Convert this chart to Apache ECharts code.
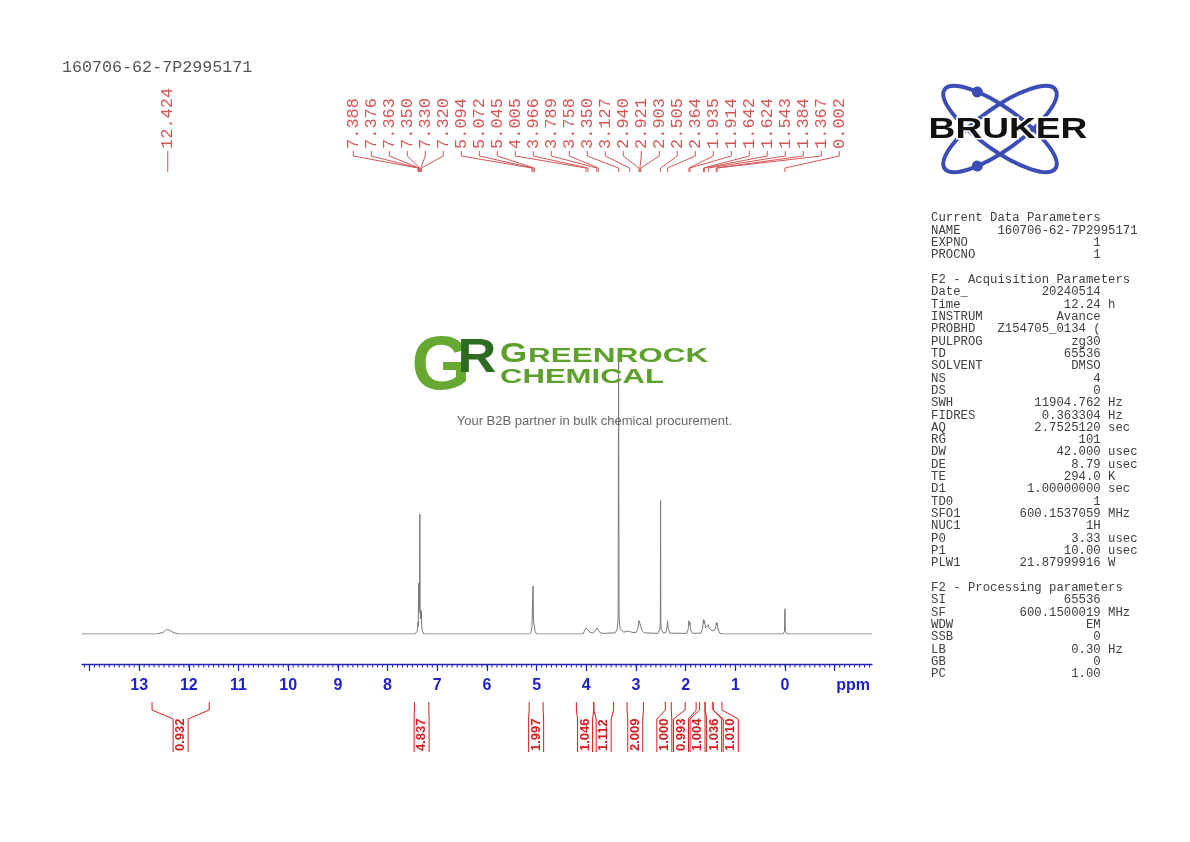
<!DOCTYPE html>
<html>
<head>
<meta charset="utf-8">
<title>160706-62-7P2995171</title>
<script src="https://cdn.jsdelivr.net/npm/echarts@6.0.0/dist/echarts.min.js"></script>
<style>
  html, body { margin: 0; padding: 0; background: #fff; }
  #main { width: 1190px; height: 842px; }
</style>
</head>
<body>
<div id="main"></div>
<script>
var sampleName = '160706-62-7P2995171';

// spectrum trace: [ppm, intensity]
var spectrum = [
  [14.15, 0], [12.65, 0], [12.52, 0.5], [12.45, 1.5], [12.42, 1.7], [12.38, 1.2], [12.3, 0.4], [12.2, 0],
  [7.45, 0], [7.41, 0.8], [7.395, 2], [7.388, 4], [7.382, 2.5], [7.376, 17], [7.370, 7], [7.363, 10], [7.357, 8],
  [7.350, 40], [7.344, 9], [7.337, 5], [7.330, 8], [7.325, 6], [7.320, 7.5], [7.312, 2.5], [7.30, 1], [7.27, 0],
  [5.14, 0], [5.11, 0.8], [5.094, 2.5], [5.085, 3], [5.072, 16], [5.062, 4], [5.045, 2.5], [5.03, 0.8], [5.00, 0],
  [4.07, 0], [4.03, 1.2], [4.005, 2], [3.985, 1.4], [3.966, 2], [3.93, 0.6], [3.87, 0.3], [3.82, 1], [3.789, 2],
  [3.772, 1.5], [3.758, 2], [3.72, 0.4], [3.66, 0.2],
  [3.42, 0.4], [3.38, 1.5], [3.36, 5], [3.35, 92], [3.34, 5], [3.32, 1.8], [3.25, 0.6], [3.16, 1], [3.127, 1.5], [3.09, 0.6],
  [3.00, 0.4], [2.96, 1.8], [2.94, 4.5], [2.930, 4], [2.921, 5], [2.912, 4], [2.903, 4.2], [2.88, 1.2], [2.84, 0.4],
  [2.56, 0.2], [2.52, 1.5], [2.51, 4], [2.505, 44.5], [2.50, 4], [2.49, 1.5], [2.45, 0.3],
  [2.40, 0.5], [2.38, 1.8], [2.364, 4.4], [2.35, 1.8], [2.32, 0.3],
  [1.98, 0.2], [1.95, 1.5], [1.935, 4.4], [1.925, 3], [1.914, 4], [1.90, 1.2], [1.86, 0.2],
  [1.69, 0.3], [1.66, 1.8], [1.642, 4.8], [1.633, 3.5], [1.624, 4.5], [1.60, 2], [1.58, 1.5], [1.56, 2.2],
  [1.543, 3.1], [1.525, 2], [1.47, 1], [1.41, 1.4], [1.395, 2.5], [1.384, 3.8], [1.376, 3], [1.367, 3.7],
  [1.35, 1.5], [1.31, 0.2], [1.25, 0],
  [0.04, 0], [0.012, 0.8], [0.002, 8.4], [-0.008, 0.8], [-0.04, 0], [-1.75, 0]
];

// picked peaks
var peakPpm = [12.424, 7.388, 7.376, 7.363, 7.350, 7.330, 7.320, 5.094, 5.072, 5.045, 4.005, 3.966,
  3.789, 3.758, 3.350, 3.127, 2.940, 2.921, 2.903, 2.505, 2.364, 1.935, 1.914, 1.642, 1.624, 1.543,
  1.384, 1.367, 0.002];

// integrals
var integralFrom  = [12.74, 7.46, 5.15, 4.20, 3.85, 3.18, 2.41, 2.01, 1.72, 1.61, 1.45];
var integralTo    = [11.59, 7.17, 4.87, 3.85, 3.45, 2.85, 2.29, 1.79, 1.61, 1.45, 1.27];
var integralValue = ['0.932', '4.837', '1.997', '1.046', '1.112', '2.009', '1.000', '0.993', '1.004', '1.036', '1.010'];

// axis
var axisLabelPpm = [13, 12, 11, 10, 9, 8, 7, 6, 5, 4, 3, 2, 1, 0];
var unitPos = -1.37;

// acquisition / processing parameters
var paramLines = [
  ['Current Data Parameters'],
  ['NAME', '160706-62-7P2995171'],
  ['EXPNO', '1'],
  ['PROCNO', '1'],
  [''],
  ['F2 - Acquisition Parameters'],
  ['Date_', '20240514'],
  ['Time', '12.24', 'h'],
  ['INSTRUM', 'Avance'],
  ['PROBHD', 'Z154705_0134 ('],
  ['PULPROG', 'zg30'],
  ['TD', '65536'],
  ['SOLVENT', 'DMSO'],
  ['NS', '4'],
  ['DS', '0'],
  ['SWH', '11904.762', 'Hz'],
  ['FIDRES', '0.363304', 'Hz'],
  ['AQ', '2.7525120', 'sec'],
  ['RG', '101'],
  ['DW', '42.000', 'usec'],
  ['DE', '8.79', 'usec'],
  ['TE', '294.0', 'K'],
  ['D1', '1.00000000', 'sec'],
  ['TD0', '1'],
  ['SFO1', '600.1537059', 'MHz'],
  ['NUC1', '1H'],
  ['P0', '3.33', 'usec'],
  ['P1', '10.00', 'usec'],
  ['PLW1', '21.87999916', 'W'],
  [''],
  ['F2 - Processing parameters'],
  ['SI', '65536'],
  ['SF', '600.1500019', 'MHz'],
  ['WDW', 'EM'],
  ['SSB', '0'],
  ['LB', '0.30', 'Hz'],
  ['GB', '0'],
  ['PC', '1.00']
];

var majorTicks = [], minorTicks = [];
for (var t = -1; t <= 14; t++) majorTicks.push(t);
for (var m = -17; m <= 141; m++) minorTicks.push(m / 10);

var paramText = paramLines.map(function (l) {
  if (l.length === 1) return l[0];
  var v = l[1];
  while (v.length < 14) v = ' ' + v;
  var n = l[0];
  while (n.length < 9) n += ' ';
  return n + v + (l[2] ? ' ' + l[2] : '');
}).join('\n');

// push label slots apart so neighbours keep a minimum gap, keeping each group centred
function spreadSlots(centers, gap) {
  var order = centers.map(function (c, i) { return i; }).sort(function (a, b) { return centers[a] - centers[b]; });
  var groups = order.map(function (i) { return { ids: [i], sum: centers[i] }; });
  var merged = true;
  while (merged) {
    merged = false;
    for (var k = 0; k < groups.length - 1; k++) {
      var a = groups[k], b = groups[k + 1];
      var aEnd = a.sum / a.ids.length + (a.ids.length - 1) / 2 * gap;
      var bStart = b.sum / b.ids.length - (b.ids.length - 1) / 2 * gap;
      if (bStart - aEnd < gap) {
        groups.splice(k, 2, { ids: a.ids.concat(b.ids), sum: a.sum + b.sum });
        merged = true;
        break;
      }
    }
  }
  var out = [];
  groups.forEach(function (g) {
    var mid = g.sum / g.ids.length;
    g.ids.forEach(function (id, n) { out[id] = mid + (n - (g.ids.length - 1) / 2) * gap; });
  });
  return out;
}

var peakColor = '#d45656';
var intColor = '#d21e1e';
var blue = '#2020c8';
var logoBlue = '#3b4cb4';
var axisGap = 30;

var chart = echarts.init(document.getElementById('main'));
chart.setOption({
  backgroundColor: '#ffffff',
  animation: false,
  grid: { left: 82, right: 318, top: 334, bottom: 208 },
  xAxis: {
    type: 'value', min: -1.75, max: 14.15, inverse: true, position: 'bottom', offset: axisGap,
    axisLine: { show: true, onZero: false, lineStyle: { color: blue, width: 1.3 } },
    axisTick: { show: true, length: 7, customValues: majorTicks, lineStyle: { color: blue, width: 1.2 } },
    axisLabel: {
      show: true, customValues: axisLabelPpm.concat([unitPos]), margin: 14,
      color: blue, fontFamily: 'Liberation Sans', fontWeight: 'bold', fontSize: 16,
      formatter: function (v) { return Math.abs(v - unitPos) < 1e-6 ? 'ppm' : String(v); }
    },
    splitLine: { show: false }
  },
  yAxis: { type: 'value', min: 0, max: 100, show: false },
  series: [{
    type: 'line', data: spectrum, symbol: 'none', silent: true,
    lineStyle: { color: '#7a7a7a', width: 1 }
  }, {
    // minor ticks of the ppm scale (every 0.1 ppm)
    type: 'custom', clip: false, silent: true,
    data: minorTicks.map(function (v) { return [v, 0]; }),
    renderItem: function (params, api) {
      var p = api.coord([minorTicks[params.dataIndex], 0]);
      var y = p[1] + axisGap;
      return { type: 'line', shape: { x1: p[0], y1: y, x2: p[0], y2: y + 3.5 }, style: { stroke: blue, lineWidth: 1 } };
    }
  }, {
    // peak labels with their leader lines
    type: 'custom', clip: false, silent: true,
    data: peakPpm.map(function (p) { return [p, 0]; }),
    renderItem: function (params, api) {
      var px = peakPpm.map(function (p) { return api.coord([p, 0])[0]; });
      var slots = spreadSlots(px, 18);
      var i = params.dataIndex, x = px[i], lx = slots[i];
      return {
        type: 'group', children: [{
          type: 'polyline',
          shape: { points: [[lx, 151], [lx, 156], [x, 168], [x, 172]] },
          style: { stroke: peakColor, lineWidth: 1, fill: null }
        }, {
          type: 'text', x: lx, y: 149, rotation: Math.PI / 2,
          style: { text: peakPpm[i].toFixed(3), font: '17px "Liberation Mono"', fill: peakColor, align: 'left', verticalAlign: 'middle' }
        }]
      };
    }
  }, {
    // integral brackets
    type: 'custom', clip: false, silent: true,
    data: integralFrom.map(function (f, i) { return [(f + integralTo[i]) / 2, 0]; }),
    renderItem: function (params, api) {
      var left = integralFrom.map(function (p) { return api.coord([p, 0])[0]; });
      var right = integralTo.map(function (p) { return api.coord([p, 0])[0]; });
      var mids = left.map(function (l, k) { return (l + right[k]) / 2; });
      var slots = spreadSlots(mids, 16.6);
      var i = params.dataIndex, c = slots[i], h = 7.5;
      return {
        type: 'group', children: [{
          type: 'polyline',
          shape: { points: [[left[i], 702], [left[i], 710], [c - h, 719], [c - h, 752]] },
          style: { stroke: intColor, lineWidth: 1, fill: null }
        }, {
          type: 'polyline',
          shape: { points: [[right[i], 702], [right[i], 710], [c + h, 719], [c + h, 752]] },
          style: { stroke: intColor, lineWidth: 1, fill: null }
        }, {
          type: 'text', x: c, y: 751, rotation: Math.PI / 2,
          style: { text: integralValue[i], font: 'bold 13px "Liberation Sans"', fill: intColor, align: 'left', verticalAlign: 'middle' }
        }]
      };
    }
  }],
  graphic: [
    { type: 'text', x: 62, y: 68, style: { text: sampleName, font: '16.7px "Liberation Mono"', fill: '#555', verticalAlign: 'middle' } },
    { type: 'text', x: 931, y: 211.8, style: { text: paramText, font: '12.3px "Liberation Mono"', lineHeight: 12.33, fill: '#404040', verticalAlign: 'top' } },
    // Bruker logo
    { type: 'group', x: 1000, y: 129, rotation: -0.62, children: [
      { type: 'ellipse', shape: { cx: 0, cy: 0, rx: 68, ry: 21 }, style: { fill: null, stroke: logoBlue, lineWidth: 4 } },
      { type: 'circle', shape: { cx: -40, cy: -17, r: 5.5 }, style: { fill: logoBlue } }
    ] },
    { type: 'group', x: 1000, y: 129, rotation: 0.62, children: [
      { type: 'ellipse', shape: { cx: 0, cy: 0, rx: 68, ry: 21 }, style: { fill: null, stroke: logoBlue, lineWidth: 4 } },
      { type: 'circle', shape: { cx: -40, cy: 17, r: 5.5 }, style: { fill: logoBlue } }
    ] },
    { type: 'text', x: 1008, y: 130, scaleX: 1.28, style: { text: 'BRUKER', font: '900 29px "Liberation Sans"', fill: '#111', stroke: '#fff', lineWidth: 3, align: 'center', verticalAlign: 'middle' } },
    // Greenrock watermark
    { type: 'text', x: 441, y: 368, z: 10, style: { text: 'G', font: 'bold 76px "Liberation Sans"', fill: '#66a832', align: 'center', verticalAlign: 'middle' } },
    { type: 'text', x: 477, y: 359, z: 10, scaleX: 1.12, style: { text: 'R', font: 'bold 48px "Liberation Sans"', fill: '#2e6b22', align: 'center', verticalAlign: 'middle' } },
    { type: 'text', x: 500, y: 354, z: 10, scaleX: 1.25, style: { text: 'G', font: 'bold 28px "Liberation Sans"', fill: '#5ea02e', verticalAlign: 'middle' } },
    { type: 'text', x: 528, y: 356.5, z: 10, scaleX: 1.5, style: { text: 'REENROCK', font: 'bold 21px "Liberation Sans"', fill: '#5ea02e', verticalAlign: 'middle' } },
    { type: 'text', x: 500, y: 377, z: 10, scaleX: 1.48, style: { text: 'CHEMICAL', font: 'bold 21px "Liberation Sans"', fill: '#5ea02e', verticalAlign: 'middle' } },
    { type: 'text', x: 594.5, y: 421, z: 10, style: { text: 'Your B2B partner in bulk chemical procurement.', font: '13px "Liberation Sans"', fill: '#666', align: 'center', verticalAlign: 'middle' } }
  ]
});
</script>
</body>
</html>
